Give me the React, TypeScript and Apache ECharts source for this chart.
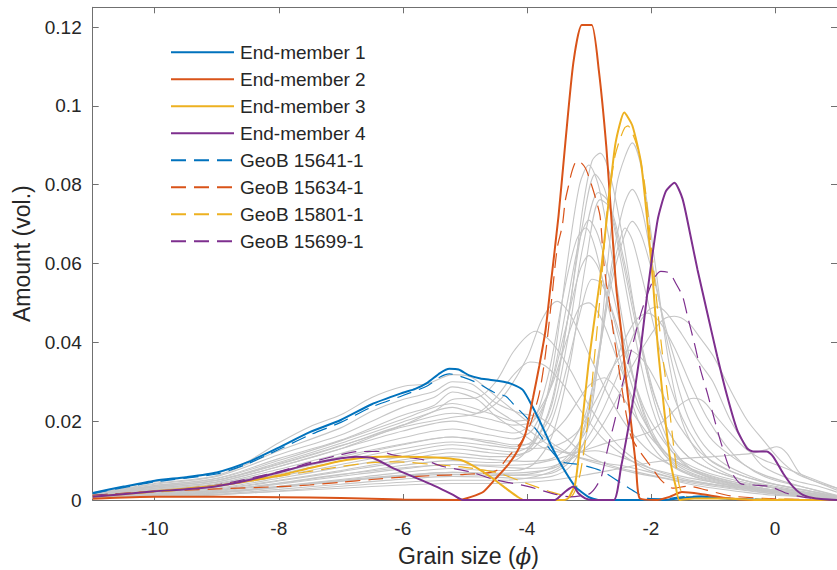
import React, { useEffect, useRef } from "react";
import * as echarts from "echarts";

type Pt = [number, number];

const X_TICKS = [-10, -8, -6, -4, -2, 0];
const Y_TICKS = [0, 0.02, 0.04, 0.06, 0.08, 0.1, 0.12];

const EM_NAMES = ["End-member 1", "End-member 2", "End-member 3", "End-member 4"];
const SITE_NAMES = ["GeoB 15641-1", "GeoB 15634-1", "GeoB 15801-1", "GeoB 15699-1"];
const COLORS = ["#0072BD", "#D95319", "#EDB120", "#7E2F8E"];

const EM1: Pt[] = [[-11,0.0018],[-10.5,0.0034],[-10,0.0049],[-9.5,0.0058],[-9,0.007],[-8.5,0.0096],[-8,0.0133],[-7.5,0.0172],[-7,0.0203],[-6.5,0.0243],[-6,0.0272],[-5.8,0.0282],[-5.6,0.0298],[-5.4,0.0322],[-5.25,0.0333],[-5.1,0.0331],[-4.93,0.0316],[-4.75,0.0308],[-4.6,0.0305],[-4.29,0.0297],[-4.07,0.028],[-3.91,0.0237],[-3.75,0.0186],[-3.6,0.0135],[-3.43,0.0085],[-3.22,0.0034],[-3.01,0.0008],[-2.85,0],[-1.8,0],[-1.5,0.0005],[-1.2,0.0008],[-0.8,0.0004],[-0.4,0.0001],[0,0],[1,0]];
const EM2: Pt[] = [[-11,0.0003],[-10,0.0008],[-9,0.0008],[-8,0.0007],[-7,0.0005],[-6,0.0001],[-5.1,0],[-4.9,0.0008],[-4.7,0.0021],[-4.5,0.0055],[-4.3,0.009],[-4.15,0.0125],[-4.02,0.017],[-3.9,0.026],[-3.8,0.034],[-3.7,0.043],[-3.62,0.054],[-3.49,0.072],[-3.38,0.0906],[-3.25,0.111],[-3.115,0.1205],[-2.955,0.1205],[-2.84,0.109],[-2.72,0.0898],[-2.64,0.072],[-2.56,0.054],[-2.48,0.043],[-2.4,0.0305],[-2.32,0.0195],[-2.24,0.0085],[-2.18,0.0004],[-1.9,0],[-1.7,0.0008],[-1.5,0.002],[-1.2,0.0015],[-0.8,0.0005],[-0.4,0],[1,0]];
const EM3: Pt[] = [[-11,0.0008],[-10,0.0022],[-9,0.0036],[-8.5,0.0048],[-8,0.0062],[-7.5,0.0081],[-7,0.0099],[-6.6,0.0108],[-6.36,0.011],[-6,0.011],[-5.46,0.0108],[-5.09,0.0102],[-4.9,0.009],[-4.71,0.0072],[-4.5,0.0049],[-4.3,0.0025],[-4.15,0.0008],[-4.05,0],[-3.4,0],[-3.33,0.0005],[-3.22,0.0042],[-3.12,0.0178],[-3.01,0.034],[-2.9,0.047],[-2.82,0.056],[-2.69,0.0745],[-2.57,0.0906],[-2.43,0.0983],[-2.3,0.095],[-2.16,0.0856],[-2.05,0.0695],[-1.97,0.056],[-1.89,0.039],[-1.78,0.022],[-1.68,0.0093],[-1.6,0.0034],[-1.54,0],[-1.3,0.0004],[-0.8,0.0004],[-0.3,0],[1,0]];
const EM4: Pt[] = [[-11,0.0008],[-10,0.0022],[-9.5,0.0027],[-9,0.0035],[-8.5,0.005],[-8,0.007],[-7.5,0.0091],[-7,0.0106],[-6.74,0.011],[-6.47,0.0106],[-6.15,0.008],[-5.83,0.0059],[-5.46,0.0034],[-5.19,0.0013],[-5.03,0],[-3.55,0],[-3.45,0.0012],[-3.35,0.0025],[-3.25,0.0034],[-3.17,0.0017],[-3.06,0.0004],[-2.95,0],[-2.6,0],[-2.48,0.0085],[-2.37,0.0178],[-2.26,0.028],[-2.16,0.039],[-2.05,0.0535],[-1.89,0.0712],[-1.76,0.0783],[-1.62,0.0805],[-1.49,0.0764],[-1.36,0.0669],[-1.25,0.0585],[-1.09,0.0474],[-0.93,0.0364],[-0.77,0.0263],[-0.61,0.0178],[-0.45,0.0131],[-0.35,0.0123],[-0.13,0.0123],[-0.03,0.011],[0.13,0.0068],[0.29,0.0034],[0.45,0.0013],[0.66,0.0004],[1,0]];

const SITE1: Pt[] = [[-11,0.0016],[-10,0.0046],[-9,0.0066],[-8.5,0.0092],[-8,0.0128],[-7.5,0.0165],[-7,0.0197],[-6.5,0.0236],[-6,0.0265],[-5.6,0.029],[-5.4,0.0312],[-5.25,0.032],[-5,0.031],[-4.8,0.0297],[-4.5,0.0271],[-4.34,0.0263],[-4.18,0.0237],[-3.97,0.0203],[-3.81,0.017],[-3.62,0.0127],[-3.43,0.0097],[-3.12,0.0089],[-2.8,0.0074],[-2.5,0.0045],[-2.26,0.0021],[-2.05,0.0004],[-1.8,0.0003],[-1.5,0.0008],[-1.2,0.001],[-0.8,0.0005],[-0.3,0.0001],[1,0]];
const SITE2: Pt[] = [[-11,0.0012],[-10,0.0022],[-9,0.0028],[-8,0.0034],[-7.5,0.0038],[-7,0.0045],[-6.5,0.0052],[-6,0.0058],[-5.5,0.0062],[-5,0.0065],[-4.5,0.0074],[-4.3,0.011],[-4.1,0.0145],[-3.95,0.019],[-3.8,0.027],[-3.7,0.037],[-3.6,0.051],[-3.51,0.064],[-3.43,0.0695],[-3.38,0.076],[-3.33,0.0796],[-3.28,0.083],[-3.22,0.0856],[-3.17,0.086],[-3.06,0.0843],[-2.98,0.081],[-2.9,0.077],[-2.82,0.072],[-2.77,0.0618],[-2.72,0.055],[-2.69,0.0525],[-2.61,0.043],[-2.53,0.0347],[-2.42,0.0237],[-2.32,0.0161],[-2.16,0.0119],[-2,0.0085],[-1.84,0.0051],[-1.65,0.003],[-1.4,0.0035],[-1.1,0.0025],[-0.7,0.001],[0,0.0003],[1,0]];
const SITE3: Pt[] = [[-11,0.0012],[-10,0.002],[-9,0.0035],[-8,0.006],[-7,0.0085],[-6.5,0.0095],[-6.1,0.0097],[-5.5,0.009],[-5,0.0083],[-4.5,0.007],[-4,0.0042],[-3.6,0.002],[-3.3,0.0008],[-3.15,0.006],[-3,0.022],[-2.9,0.038],[-2.8,0.055],[-2.77,0.061],[-2.69,0.0762],[-2.64,0.0813],[-2.58,0.0872],[-2.5,0.0915],[-2.42,0.0945],[-2.37,0.0949],[-2.26,0.0915],[-2.18,0.0872],[-2.1,0.08],[-2,0.065],[-1.89,0.048],[-1.81,0.0364],[-1.7,0.0229],[-1.62,0.0119],[-1.54,0.0034],[-1.45,0.001],[-1,0.0005],[1,0]];
const SITE4: Pt[] = [[-11,0.0012],[-10,0.0022],[-9,0.0038],[-8,0.0072],[-7.5,0.0095],[-7,0.0115],[-6.74,0.0123],[-6.36,0.0123],[-6.15,0.0114],[-5.67,0.0102],[-5.35,0.0085],[-4.93,0.0072],[-4.5,0.0051],[-3.97,0.0034],[-3.6,0.0017],[-3.3,0.0008],[-3,0.0015],[-2.9,0.003],[-2.8,0.0059],[-2.69,0.0135],[-2.58,0.0203],[-2.48,0.028],[-2.37,0.0347],[-2.26,0.0415],[-2.16,0.0474],[-2.05,0.0525],[-1.94,0.0565],[-1.84,0.058],[-1.7,0.0576],[-1.6,0.055],[-1.49,0.0517],[-1.41,0.0466],[-1.3,0.0398],[-1.2,0.033],[-1.09,0.0271],[-0.96,0.0195],[-0.85,0.0135],[-0.72,0.0076],[-0.56,0.0042],[-0.35,0.0038],[-0.08,0.0034],[0.19,0.0017],[0.5,0.0006],[1,0]];

const SAMPLES: Pt[][] = [
  [[-11,0.0018],[-10,0.0046],[-9,0.0068],[-8.5,0.0098],[-8,0.0145],[-7.5,0.0186],[-7,0.0216],[-6.5,0.026],[-6,0.0288],[-5.6,0.0295],[-5.2,0.0318],[-4.9,0.0312],[-4.5,0.0263],[-4,0.02],[-3.6,0.0145],[-3.2,0.011],[-2.8,0.009],[-2.3,0.007],[-1.8,0.0055],[-1.2,0.0035],[-0.5,0.002],[0,0.0012],[0.5,0.0008],[1,0.0004]],
  [[-11,0.0016],[-10,0.0042],[-9,0.0062],[-8,0.0125],[-7,0.0183],[-6.5,0.0225],[-6,0.0255],[-5.5,0.0275],[-5.2,0.03],[-4.9,0.0295],[-4.5,0.0246],[-4.1,0.022],[-3.8,0.021],[-3.5,0.0175],[-3.1,0.012],[-2.7,0.009],[-2.2,0.007],[-1.6,0.005],[-1,0.0035],[0,0.0015],[1,0.0005]],
  [[-11,0.0015],[-10,0.004],[-9,0.006],[-8,0.0115],[-7,0.0165],[-6.5,0.02],[-6,0.0235],[-5.5,0.026],[-5.2,0.0287],[-4.8,0.027],[-4.5,0.0229],[-4,0.018],[-3.6,0.0135],[-3.2,0.011],[-2.8,0.0095],[-2.4,0.0085],[-2,0.007],[-1.5,0.005],[-1,0.004],[-0.5,0.003],[0,0.002],[1,0.0006]],
  [[-11,0.0014],[-10,0.0037],[-9,0.0055],[-8,0.0105],[-7,0.0152],[-6,0.0215],[-5.5,0.024],[-5.2,0.0274],[-4.8,0.0255],[-4.5,0.0212],[-4.1,0.017],[-3.7,0.013],[-3.3,0.012],[-2.9,0.0125],[-2.5,0.011],[-2,0.008],[-1.5,0.006],[-1,0.0045],[0,0.002],[1,0.0006]],
  [[-11,0.0013],[-10,0.0034],[-9,0.005],[-8,0.0095],[-7,0.0144],[-6,0.0198],[-5.5,0.0225],[-5.2,0.0255],[-4.8,0.026],[-4.5,0.03],[-4.2,0.038],[-3.86,0.0428],[-3.6,0.04],[-3.3,0.033],[-3,0.024],[-2.7,0.017],[-2.4,0.012],[-2,0.008],[-1.5,0.0055],[-1,0.004],[0,0.0018],[1,0.0006]],
  [[-11,0.0012],[-10,0.003],[-9,0.0045],[-8,0.0085],[-7,0.013],[-6,0.019],[-5.2,0.0235],[-4.8,0.022],[-4.4,0.026],[-4,0.036],[-3.75,0.046],[-3.51,0.0504],[-3.3,0.047],[-3,0.037],[-2.7,0.027],[-2.4,0.019],[-2,0.012],[-1.5,0.0075],[-1,0.005],[0,0.002],[1,0.0006]],
  [[-11,0.0013],[-10,0.0033],[-9,0.005],[-8,0.0092],[-7,0.0138],[-6,0.0185],[-5.2,0.021],[-4.8,0.022],[-4.5,0.026],[-4.2,0.032],[-3.95,0.035],[-3.7,0.034],[-3.4,0.029],[-3.1,0.022],[-2.8,0.016],[-2.5,0.012],[-2.1,0.008],[-1.6,0.0055],[-1,0.0038],[0,0.0016],[1,0.0005]],
  [[-11,0.0008],[-10,0.0018],[-9,0.0028],[-8,0.005],[-7,0.0075],[-6,0.0102],[-5.2,0.012],[-4.6,0.011],[-4.2,0.011],[-3.9,0.014],[-3.6,0.025],[-3.3,0.05],[-3.1,0.074],[-2.95,0.086],[-2.82,0.088],[-2.65,0.082],[-2.45,0.066],[-2.25,0.047],[-2,0.028],[-1.75,0.016],[-1.5,0.01],[-1.2,0.0065],[-0.8,0.0045],[-0.3,0.003],[0.3,0.0015],[1,0.0005]],
  [[-11,0.0007],[-10,0.0015],[-9,0.0024],[-8,0.0042],[-7,0.0064],[-6,0.0088],[-5.2,0.01],[-4.6,0.0095],[-4.2,0.01],[-3.9,0.015],[-3.6,0.032],[-3.35,0.06],[-3.15,0.08],[-3,0.085],[-2.85,0.08],[-2.65,0.064],[-2.45,0.045],[-2.25,0.029],[-2,0.017],[-1.7,0.01],[-1.4,0.0065],[-1,0.0045],[-0.5,0.003],[0,0.002],[1,0.0005]],
  [[-11,0.0009],[-10,0.0021],[-9,0.0033],[-8,0.006],[-7,0.009],[-6,0.012],[-5.2,0.014],[-4.6,0.0128],[-4.2,0.0122],[-3.9,0.0145],[-3.6,0.024],[-3.35,0.045],[-3.1,0.07],[-2.9,0.0826],[-2.75,0.079],[-2.55,0.066],[-2.3,0.045],[-2.05,0.027],[-1.8,0.016],[-1.5,0.0095],[-1.1,0.006],[-0.5,0.0035],[0,0.0022],[1,0.0006]],
  [[-11,0.001],[-10,0.0025],[-9,0.0038],[-8,0.007],[-7,0.0105],[-6,0.014],[-5.2,0.016],[-4.6,0.0145],[-4.2,0.0135],[-3.9,0.015],[-3.6,0.022],[-3.35,0.04],[-3.1,0.064],[-2.85,0.078],[-2.7,0.076],[-2.5,0.064],[-2.25,0.045],[-2,0.029],[-1.7,0.017],[-1.4,0.011],[-1,0.0075],[-0.5,0.005],[0,0.003],[1,0.0008]],
  [[-11,0.0006],[-10,0.0013],[-9,0.002],[-8,0.0035],[-7,0.0052],[-6,0.007],[-5.2,0.008],[-4.6,0.0075],[-4.2,0.0075],[-3.9,0.009],[-3.6,0.016],[-3.3,0.035],[-3.05,0.06],[-2.82,0.0762],[-2.65,0.074],[-2.45,0.062],[-2.2,0.043],[-1.95,0.027],[-1.7,0.017],[-1.4,0.011],[-1,0.0075],[-0.5,0.005],[0,0.0035],[0.5,0.002],[1,0.0008]],
  [[-11,0.0011],[-10,0.0028],[-9,0.0042],[-8,0.0078],[-7,0.0118],[-6,0.0158],[-5.2,0.018],[-4.6,0.0165],[-4.2,0.0155],[-3.9,0.018],[-3.6,0.03],[-3.35,0.05],[-3.15,0.066],[-3,0.071],[-2.85,0.067],[-2.65,0.055],[-2.4,0.038],[-2.15,0.024],[-1.9,0.015],[-1.6,0.0095],[-1.2,0.0065],[-0.6,0.004],[0,0.0025],[1,0.0007]],
  [[-11,0.0012],[-10,0.003],[-9,0.0046],[-8,0.0085],[-7,0.013],[-6,0.0175],[-5.2,0.02],[-4.6,0.018],[-4.2,0.017],[-3.9,0.02],[-3.65,0.032],[-3.4,0.053],[-3.2,0.066],[-3.05,0.069],[-2.9,0.064],[-2.7,0.05],[-2.45,0.033],[-2.2,0.02],[-1.9,0.012],[-1.6,0.008],[-1.2,0.0055],[-0.6,0.0035],[0,0.002],[1,0.0006]],
  [[-11,0.0013],[-10,0.0033],[-9,0.005],[-8,0.009],[-7,0.0137],[-6,0.019],[-5.2,0.022],[-4.6,0.0205],[-4.2,0.019],[-3.9,0.02],[-3.65,0.027],[-3.4,0.042],[-3.15,0.058],[-3,0.062],[-2.85,0.059],[-2.65,0.049],[-2.4,0.034],[-2.15,0.022],[-1.9,0.014],[-1.6,0.009],[-1.2,0.006],[-0.6,0.004],[0,0.0025],[1,0.0007]],
  [[-11,0.0009],[-10,0.002],[-9,0.003],[-8,0.0055],[-7,0.0083],[-6,0.011],[-5.2,0.013],[-4.6,0.012],[-4.2,0.0115],[-3.9,0.013],[-3.6,0.02],[-3.35,0.034],[-3.1,0.05],[-2.95,0.056],[-2.8,0.055],[-2.6,0.047],[-2.35,0.034],[-2.1,0.023],[-1.8,0.015],[-1.5,0.01],[-1.1,0.007],[-0.5,0.0045],[0,0.003],[1,0.0008]],
  [[-11,0.0014],[-10,0.0036],[-9,0.0054],[-8,0.01],[-7,0.015],[-6,0.0205],[-5.2,0.0245],[-4.6,0.022],[-4.2,0.02],[-3.9,0.021],[-3.6,0.029],[-3.35,0.041],[-3.15,0.049],[-3,0.05],[-2.8,0.046],[-2.55,0.036],[-2.3,0.026],[-2,0.017],[-1.7,0.011],[-1.3,0.0075],[-0.8,0.005],[0,0.003],[1,0.0008]],
  [[-11,0.0005],[-10,0.001],[-9,0.0015],[-8,0.0027],[-7,0.004],[-6,0.0053],[-5.2,0.006],[-4.6,0.0058],[-4,0.0055],[-3.6,0.006],[-3.3,0.0085],[-3.05,0.016],[-2.85,0.035],[-2.7,0.06],[-2.55,0.08],[-2.42,0.087],[-2.3,0.0906],[-2.15,0.084],[-2,0.068],[-1.85,0.05],[-1.7,0.034],[-1.5,0.02],[-1.25,0.012],[-1,0.0085],[-0.5,0.005],[0,0.0032],[0.5,0.0018],[1,0.0006]],
  [[-11,0.0006],[-10,0.0014],[-9,0.0022],[-8,0.004],[-7,0.006],[-6,0.0079],[-5.2,0.009],[-4.6,0.0085],[-4,0.008],[-3.6,0.0085],[-3.3,0.011],[-3.05,0.019],[-2.85,0.035],[-2.65,0.058],[-2.45,0.074],[-2.3,0.0788],[-2.15,0.074],[-2,0.062],[-1.8,0.045],[-1.6,0.031],[-1.4,0.021],[-1.15,0.014],[-0.8,0.009],[-0.4,0.006],[0,0.004],[0.5,0.0025],[1,0.0008]],
  [[-11,0.0007],[-10,0.0017],[-9,0.0026],[-8,0.0048],[-7,0.0072],[-6,0.0096],[-5.2,0.011],[-4.6,0.0103],[-4,0.0098],[-3.6,0.0105],[-3.3,0.014],[-3.05,0.022],[-2.85,0.036],[-2.65,0.054],[-2.45,0.066],[-2.3,0.0707],[-2.15,0.067],[-1.95,0.056],[-1.75,0.043],[-1.5,0.03],[-1.25,0.021],[-1,0.015],[-0.6,0.01],[-0.2,0.0065],[0.3,0.004],[1,0.001]],
  [[-11,0.0005],[-10,0.0012],[-9,0.0018],[-8,0.0032],[-7,0.0047],[-6,0.0062],[-5.2,0.007],[-4.6,0.0066],[-4,0.0063],[-3.6,0.0068],[-3.3,0.01],[-3.05,0.02],[-2.85,0.037],[-2.65,0.056],[-2.5,0.066],[-2.42,0.069],[-2.3,0.066],[-2.15,0.057],[-1.95,0.044],[-1.75,0.032],[-1.5,0.021],[-1.25,0.014],[-1,0.0095],[-0.5,0.006],[0,0.004],[1,0.001]],
  [[-11,0.0004],[-10,0.0009],[-9,0.0013],[-8,0.0023],[-7,0.0035],[-6,0.0045],[-5.2,0.005],[-4.5,0.005],[-4,0.0055],[-3.5,0.008],[-3.1,0.014],[-2.8,0.022],[-2.5,0.033],[-2.25,0.043],[-2.05,0.048],[-1.9,0.049],[-1.75,0.0475],[-1.5,0.042],[-1.2,0.0345],[-1,0.03],[-0.72,0.0203],[-0.45,0.0135],[-0.19,0.0085],[0.3,0.005],[0.7,0.0035],[1,0.002]],
  [[-11,0.0005],[-10,0.0012],[-9,0.0018],[-8,0.0032],[-7,0.0048],[-6,0.006],[-5.2,0.0065],[-4.5,0.0062],[-4,0.0065],[-3.5,0.009],[-3.1,0.016],[-2.8,0.026],[-2.5,0.038],[-2.25,0.0455],[-2.05,0.0474],[-1.85,0.045],[-1.6,0.038],[-1.35,0.029],[-1.1,0.021],[-0.8,0.014],[-0.5,0.009],[-0.1,0.0055],[0.4,0.0035],[1,0.0012]],
  [[-11,0.0005],[-10,0.0012],[-9,0.0019],[-8,0.0034],[-7,0.005],[-6,0.0063],[-5.2,0.007],[-4.5,0.0068],[-4,0.007],[-3.5,0.0085],[-3,0.014],[-2.6,0.024],[-2.3,0.034],[-2,0.042],[-1.8,0.0458],[-1.62,0.0466],[-1.4,0.045],[-1.2,0.041],[-0.99,0.0364],[-0.72,0.028],[-0.45,0.0203],[-0.19,0.0152],[0.08,0.0102],[0.34,0.0068],[0.6,0.005],[1,0.0025]],
  [[-11,0.0006],[-10,0.0015],[-9,0.0024],[-8,0.0043],[-7,0.0065],[-6,0.0082],[-5.2,0.009],[-4.5,0.0088],[-4,0.009],[-3.5,0.0105],[-3,0.013],[-2.6,0.015],[-2.26,0.016],[-2,0.0175],[-1.78,0.0203],[-1.5,0.0245],[-1.31,0.0258],[-1.15,0.025],[-0.99,0.022],[-0.72,0.017],[-0.45,0.0127],[-0.19,0.0102],[0.1,0.0085],[0.5,0.006],[1,0.003]],
  [[-11,0.0004],[-10,0.0009],[-9,0.0014],[-8,0.0022],[-7,0.003],[-6,0.0038],[-5.2,0.0042],[-4.5,0.0042],[-4,0.0045],[-3.5,0.0052],[-3,0.0065],[-2.5,0.008],[-2,0.0095],[-1.5,0.0105],[-1,0.011],[-0.6,0.0115],[-0.35,0.0119],[-0.1,0.013],[0.03,0.0135],[0.19,0.0119],[0.4,0.0068],[0.6,0.005],[1,0.003]],
  [[-11,0.001],[-10,0.0026],[-9,0.004],[-8,0.0072],[-7,0.011],[-6,0.0142],[-5.2,0.016],[-4.6,0.015],[-4.2,0.014],[-3.8,0.0145],[-3.4,0.02],[-3,0.029],[-2.75,0.031],[-2.5,0.027],[-2.2,0.02],[-1.9,0.014],[-1.5,0.009],[-1,0.006],[-0.5,0.004],[0,0.0025],[1,0.0007]],
  [[-11,0.001],[-10,0.0024],[-9,0.0036],[-8,0.0066],[-7,0.0099],[-6,0.013],[-5.2,0.0147],[-4.6,0.0138],[-4.1,0.013],[-3.6,0.0135],[-3.2,0.017],[-2.9,0.025],[-2.6,0.034],[-2.35,0.038],[-2.1,0.035],[-1.85,0.028],[-1.55,0.019],[-1.2,0.012],[-0.8,0.008],[-0.3,0.005],[0.3,0.003],[1,0.0008]],
];

const FONT = "'Liberation Sans', Arial, Helvetica, sans-serif";
const INK = "#262626";
const AXIS = "#707070";

export default function App() {
  const ref = useRef<HTMLDivElement>(null);
  useEffect(() => {
    if (!ref.current) return;
    const chart = echarts.init(ref.current, undefined, { renderer: "svg" });
    const ems = [EM1, EM2, EM3, EM4];
    const sites = [SITE1, SITE2, SITE3, SITE4];
    const graySeries = SAMPLES.map((d, i) => ({
      type: "line",
      name: "sample-" + (i + 1),
      data: d,
      symbol: "none",
      smooth: 0.3,
      silent: true,
      z: 1,
      lineStyle: { color: "#C6C6C6", width: 1.1 },
    }));
    const siteSeries = sites.map((d, i) => ({
      type: "line",
      name: SITE_NAMES[i],
      data: d,
      symbol: "none",
      smooth: 0.25,
      silent: true,
      z: 2,
      itemStyle: { color: COLORS[i], opacity: 0 },
      lineStyle: { color: COLORS[i], width: 1.2, type: [15, 8] },
    }));
    const emSeries = ems.map((d, i) => ({
      type: "line",
      name: EM_NAMES[i],
      data: d,
      symbol: "none",
      smooth: 0.2,
      silent: true,
      z: 3,
      itemStyle: { color: COLORS[i], opacity: 0 },
      lineStyle: { color: COLORS[i], width: 2 },
    }));
    const xBase = {
      type: "value",
      min: -11,
      max: 1,
      splitLine: { show: false },
      axisLine: { show: true, onZero: false, lineStyle: { color: AXIS, width: 1 } },
    };
    const yBase = {
      type: "value",
      min: 0,
      max: 0.125,
      splitLine: { show: false },
      axisLine: { show: true, onZero: false, lineStyle: { color: AXIS, width: 1 } },
    };
    chart.setOption({
      animation: false,
      backgroundColor: "#ffffff",
      grid: { left: 92.7, right: -7.3, top: 7.3, bottom: 70, containLabel: false },
      xAxis: [
        {
          ...xBase,
          position: "bottom",
          axisTick: { show: true, inside: true, length: 6, customValues: X_TICKS, lineStyle: { color: AXIS } },
          axisLabel: {
            show: true,
            customValues: X_TICKS,
            margin: 19,
            fontSize: 19,
            fontFamily: FONT,
            color: INK,
            formatter: (v: number) => String(v),
          },
        },
        {
          ...xBase,
          position: "top",
          axisTick: { show: true, inside: true, length: 6, customValues: X_TICKS, lineStyle: { color: AXIS } },
          axisLabel: { show: false },
        },
      ],
      yAxis: [
        {
          ...yBase,
          position: "left",
          axisTick: { show: true, inside: true, length: 6, customValues: Y_TICKS, lineStyle: { color: AXIS } },
          axisLabel: {
            show: true,
            customValues: Y_TICKS,
            margin: 11,
            fontSize: 19,
            fontFamily: FONT,
            color: INK,
            formatter: (v: number) => (v === 0 ? "0" : String(+v.toFixed(2))),
          },
        },
        {
          ...yBase,
          position: "right",
          axisTick: { show: true, inside: true, length: 6, customValues: Y_TICKS, lineStyle: { color: AXIS } },
          axisLabel: { show: false },
        },
      ],
      legend: {
        show: true,
        orient: "vertical",
        left: 170,
        top: 42.7,
        padding: 0,
        itemWidth: 63,
        itemHeight: 18,
        itemGap: 8,
        selectedMode: false,
        itemStyle: { opacity: 0 },
        data: [...EM_NAMES, ...SITE_NAMES],
        textStyle: { fontSize: 19, fontFamily: FONT, color: INK, padding: [0, 0, 0, 1] },
      },
      graphic: [
        {
          type: "text",
          x: 468.5,
          y: 556,
          style: {
            text: "Grain size ({i|ϕ})",
            fontSize: 23,
            fontFamily: FONT,
            fill: INK,
            align: "center",
            verticalAlign: "middle",
            rich: { i: { fontSize: 23, fontStyle: "italic", fontFamily: "'DejaVu Serif', serif", fill: INK } },
          },
        },
        {
          type: "text",
          x: 22,
          y: 253.7,
          rotation: Math.PI / 2,
          style: {
            text: "Amount (vol.)",
            fontSize: 23,
            fontFamily: FONT,
            fill: INK,
            align: "center",
            verticalAlign: "middle",
          },
        },
      ],
      series: [...graySeries, ...siteSeries, ...emSeries],
    });
    return () => chart.dispose();
  }, []);
  return (
    <div
      ref={ref}
      style={{ position: "absolute", left: 0, top: 0, width: 837, height: 570, background: "#fff" }}
    />
  );
}
